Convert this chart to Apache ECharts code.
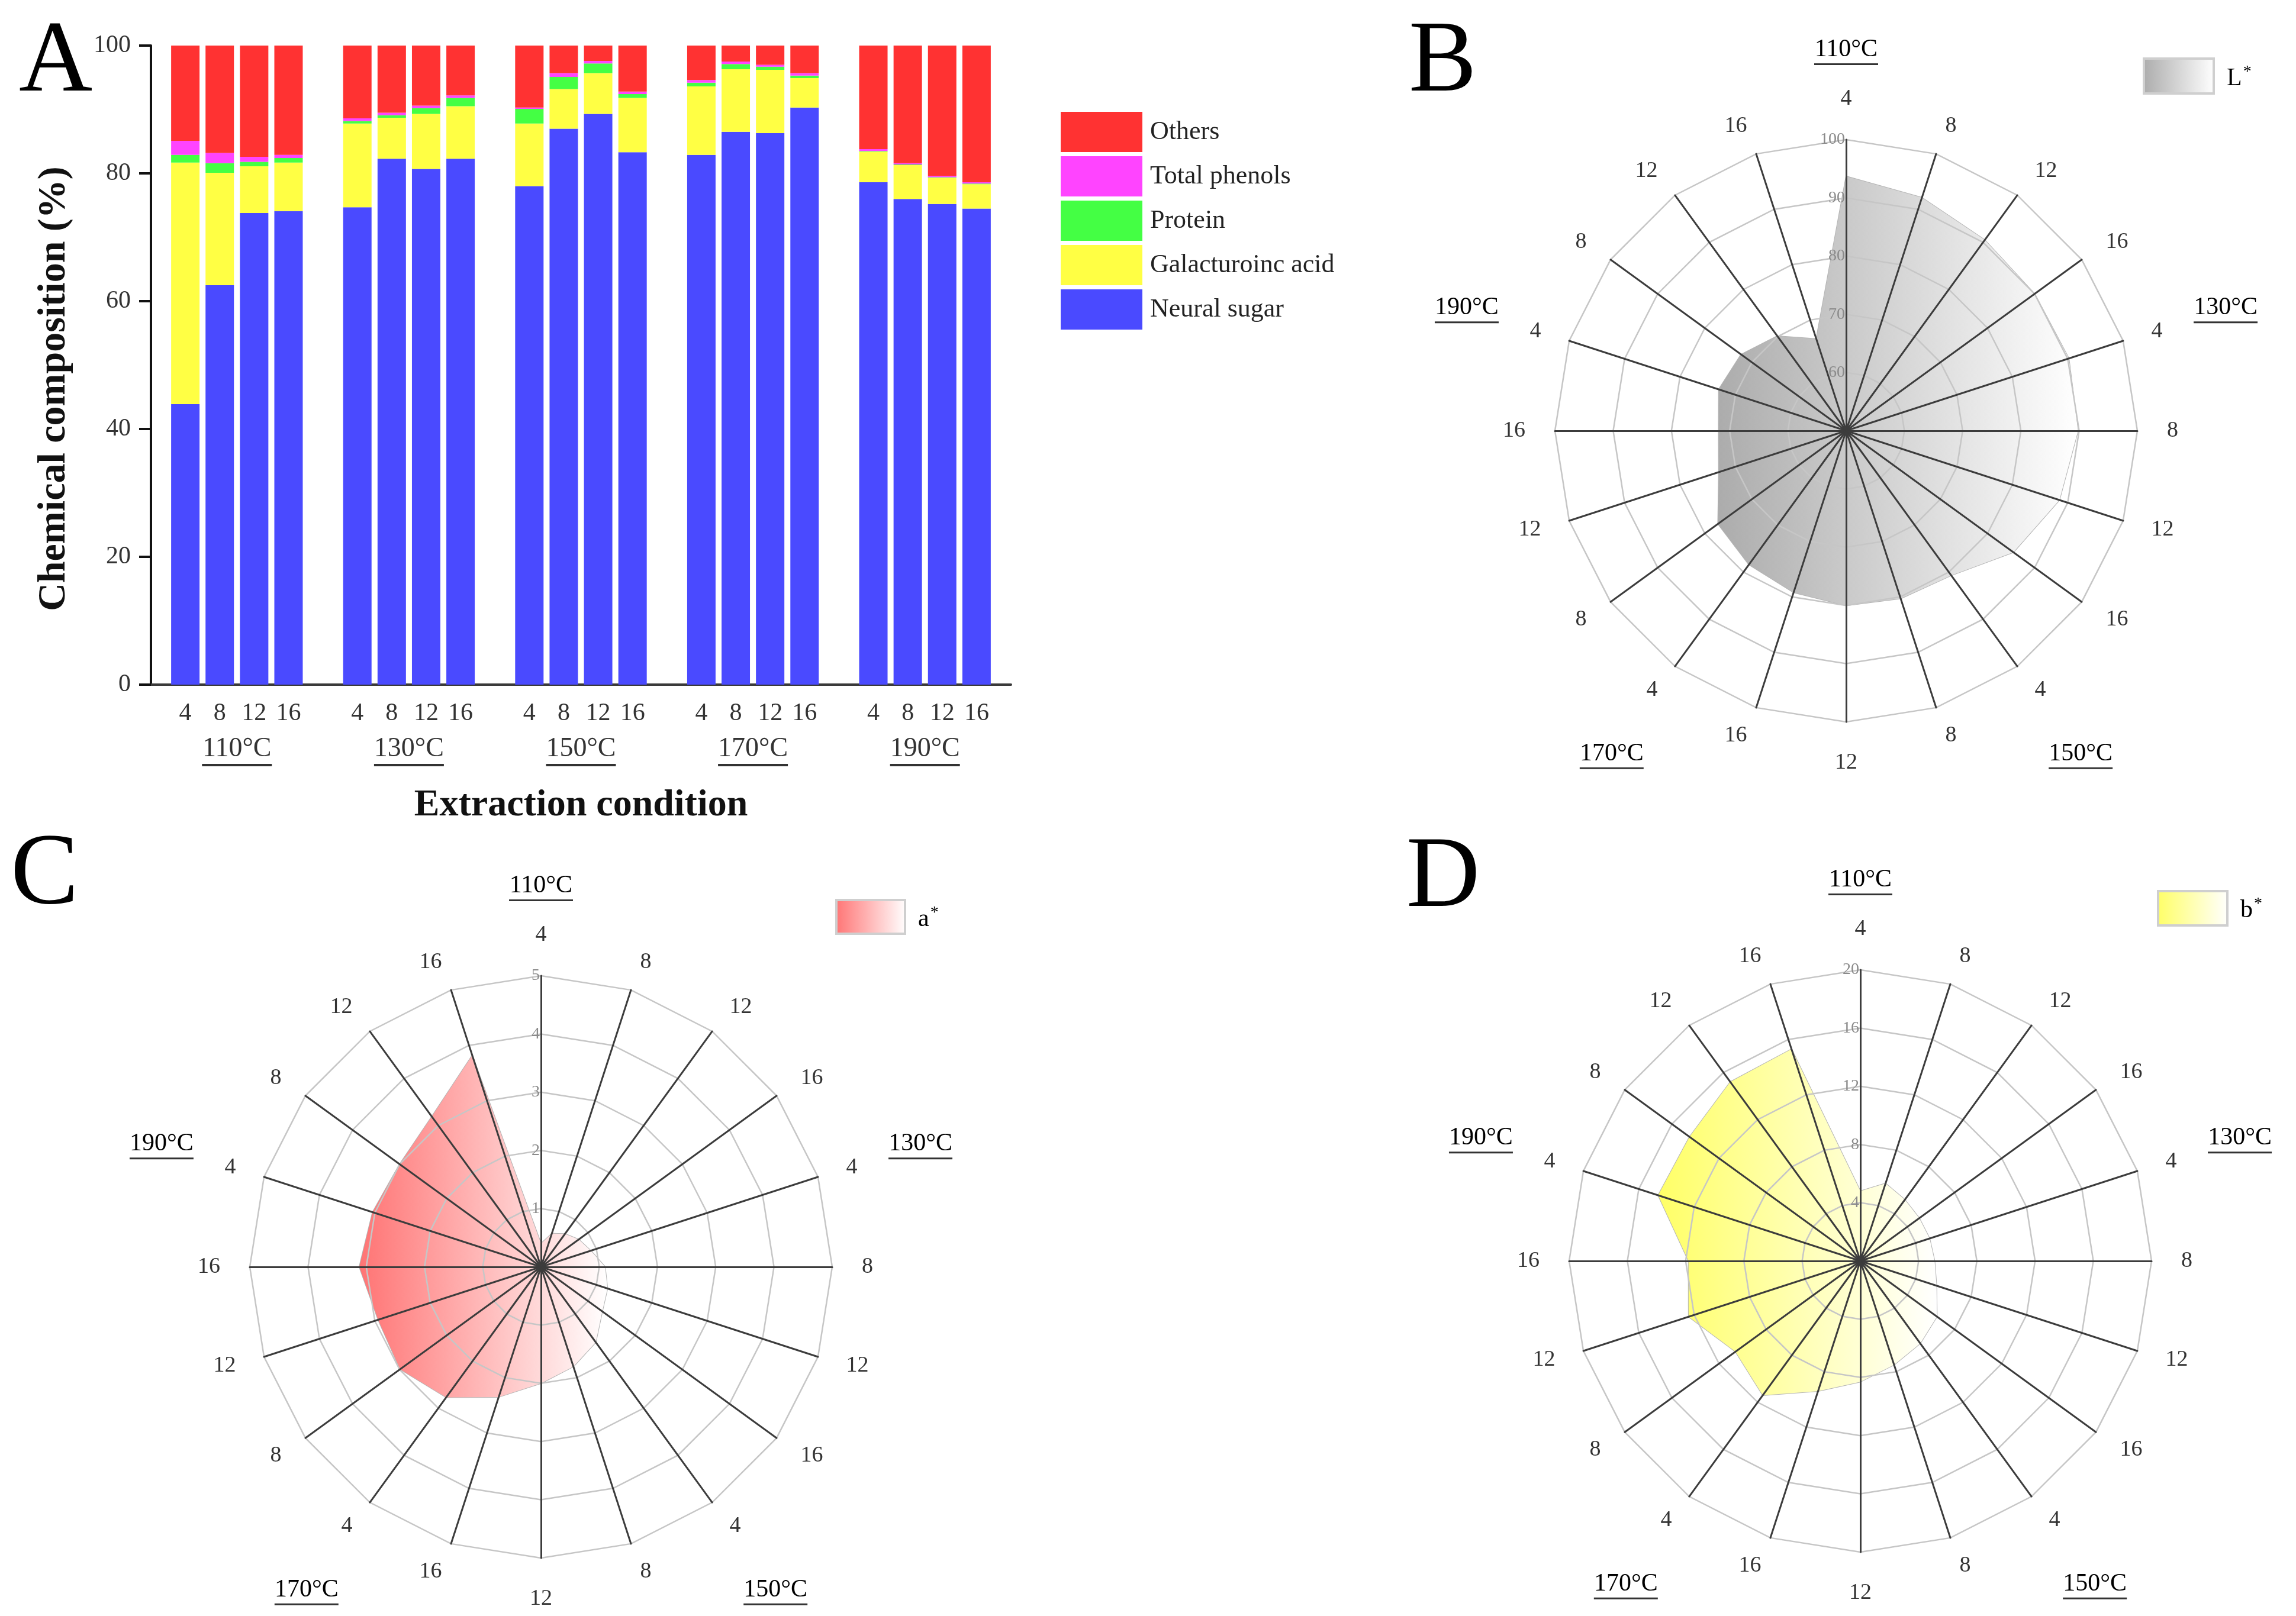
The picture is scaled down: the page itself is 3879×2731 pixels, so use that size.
<!DOCTYPE html>
<html><head><meta charset="utf-8">
<script src="https://cdn.jsdelivr.net/npm/echarts@6/dist/echarts.min.js"></script>
<style>html,body{margin:0;padding:0;background:#fff}#c{width:3879px;height:2731px}</style>
</head><body><div id="c"></div>
<script>
// ---------- data ----------
const times = ['4', '8', '12', '16'];
const temps = ['110°C', '130°C', '150°C', '170°C', '190°C'];
const seriesNames = ['Neural sugar', 'Galacturoinc acid', 'Protein', 'Total phenols', 'Others'];
// Panel A, order: 110(4,8,12,16), 130(...), 150, 170, 190
const neuralSugar = [43.9, 62.5, 73.8, 74.1, 74.7, 82.3, 80.7, 82.3, 78.0, 87.0, 89.3, 83.3, 82.9, 86.5, 86.3, 90.3, 78.6, 76.0, 75.2, 74.5];
const galacturonic = [37.8, 17.6, 7.3, 7.6, 13.1, 6.4, 8.6, 8.2, 9.8, 6.2, 6.4, 8.5, 10.7, 9.8, 9.9, 4.6, 4.8, 5.3, 4.1, 3.8];
const protein = [1.2, 1.5, 0.7, 0.7, 0.4, 0.4, 0.9, 1.3, 2.3, 1.9, 1.5, 0.6, 0.6, 0.8, 0.5, 0.4, 0.1, 0.1, 0.1, 0.1];
const totalPhenols = [2.2, 1.6, 0.8, 0.5, 0.4, 0.4, 0.4, 0.4, 0.2, 0.6, 0.4, 0.4, 0.4, 0.4, 0.3, 0.4, 0.3, 0.2, 0.2, 0.2];
const others = [14.9, 16.8, 17.4, 17.1, 11.4, 10.5, 9.4, 7.8, 9.7, 4.3, 2.4, 7.2, 5.4, 2.5, 3.0, 4.3, 16.2, 18.4, 20.4, 21.4];
const yTicks = [0, 20, 40, 60, 80, 100];
// Panels B-D (clockwise from 110°C-4)
const Lstar = [93.7, 92.1, 90.5, 90.0, 90.2, 89.8, 88.5, 85.5, 80.7, 80.3, 80.0, 79.2, 78.4, 77.2, 73.0, 71.9, 73.0, 72.3, 70.1, 66.6];
const aStar = [0.4, 0.6, 0.7, 0.8, 0.9, 1.1, 1.2, 1.3, 1.6, 1.8, 2.0, 2.35, 2.77, 2.99, 2.94, 3.12, 3.04, 3.0, 3.19, 3.82];
const bStar = [4.8, 5.6, 5.2, 5.0, 5.0, 5.1, 5.5, 6.5, 7.0, 7.5, 8.3, 9.4, 11.4, 10.6, 12.4, 11.8, 14.6, 14.5, 15.2, 15.3];
const Lrange = [50, 100], aRange = [0, 5], bRange = [0, 20];

// ---------- helpers ----------
const FONT = '"Liberation Serif", "Times New Roman", serif';
const colors = {'Neural sugar': '#4a4aff', 'Galacturoinc acid': '#ffff44', 'Protein': '#44ff44', 'Total phenols': '#ff44ff', 'Others': '#ff3232'};
const dataArr = {'Neural sugar': neuralSugar, 'Galacturoinc acid': galacturonic, 'Protein': protein, 'Total phenols': totalPhenols, 'Others': others};
function slots(arr) { const out = [null]; for (let g = 0; g < temps.length; g++) { for (let t = 0; t < times.length; t++) out.push(arr[g * times.length + t]); out.push(null); } return out; }
const xCats = ['']; temps.forEach(() => { times.forEach(t => xCats.push(t)); xCats.push(''); });
const labels20 = []; temps.forEach(T => times.forEach(t => labels20.push(t)));
function ccw(a) { return [a[0]].concat(a.slice(1).reverse()); } // ECharts radar is counter-clockwise

const R = 492;
const radars = [
  {center: [3119, 728], range: Lrange, values: Lstar, name: 'L', c0: '#acacac', legend: [3622, 99, 118, 59]},
  {center: [914, 2141], range: aRange, values: aStar, name: 'a', c0: '#ff7474', legend: [1413, 1521, 116, 57]},
  {center: [3143, 2131], range: bRange, values: bStar, name: 'b', c0: '#ffff66', legend: [3646, 1506, 117, 58]}
];

function radarCfg(r) {
  const names = ccw(labels20);
  return {
    center: r.center, radius: R, startAngle: 90, shape: 'polygon', splitNumber: 5, z: 3,
    indicator: names.map((n, i) => {
      const o = {name: n, min: r.range[0], max: r.range[1]};
      if (i === 0) o.axisLabel = {show: true, color: '#8a8a8a', fontSize: 28, fontFamily: FONT, showMinLabel: false, margin: 2};
      return o;
    }),
    axisName: {color: '#333', fontSize: 38, fontFamily: FONT},
    nameGap: 50,
    splitLine: {lineStyle: {color: '#c6c6c6', width: 2.5}},
    splitArea: {show: false},
    axisLine: {lineStyle: {color: '#3c3c3c', width: 3}},
    axisTick: {show: false},
    axisLabel: {show: false}
  };
}

const graphics = [];
function letter(t, x, y) { graphics.push({type: 'text', x: x, y: y, style: {text: t, fontSize: 172, fontFamily: FONT, fill: '#000', verticalAlign: 'middle'}}); }
letter('A', 32, 108); letter('B', 2380, 108); letter('C', 18, 1481); letter('D', 2376, 1486);
// y-axis title of panel A
graphics.push({type: 'text', x: 92, y: 657, rotation: Math.PI / 2,
  style: {text: 'Chemical composition (%)', fontSize: 66, fontWeight: 'bold', fontFamily: FONT, fill: '#111', align: 'center', verticalAlign: 'middle'}});

const uRich = {t: {fontSize: 42, fontFamily: FONT, color: '#333', lineHeight: 46}, u: {width: 108, height: 3, backgroundColor: '#333'}};
radars.forEach(r => {
  const [cx, cy] = r.center;
  temps.forEach((T, k) => {
    const a = k * 72 * Math.PI / 180;
    const rr = k === 0 ? 1.31 * R : 1.37 * R;
    graphics.push({type: 'text', x: cx + rr * Math.sin(a), y: cy - rr * Math.cos(a) + 2,
      style: {text: '{t|' + T + '}\n{u|}', rich: uRich, align: 'center', verticalAlign: 'middle'}});
  });
  const [lx, ly, lw, lh] = r.legend;
  graphics.push({type: 'rect', shape: {x: lx, y: ly, width: lw, height: lh},
    style: {fill: new echarts.graphic.LinearGradient(0, 0, 1, 0, [{offset: 0, color: r.c0}, {offset: 1, color: '#ffffff'}]), stroke: '#cfcfcf', lineWidth: 4}});
  graphics.push({type: 'text', x: lx + lw + 22, y: ly + lh / 2 + 4,
    style: {text: '{n|' + r.name + '}{s|*}', verticalAlign: 'middle', align: 'left',
      rich: {n: {fontSize: 42, fontFamily: FONT, color: '#333'}, s: {fontSize: 28, fontFamily: FONT, color: '#333', padding: [0, 0, 22, 2]}}}});
});

const barSeries = seriesNames.map(n => ({
  name: n, type: 'bar', stack: 'comp', xAxisIndex: 0, yAxisIndex: 0, barWidth: 48,
  itemStyle: {color: colors[n]}, data: slots(dataArr[n])
}));

const radarSeries = radars.map((r, i) => ({
  type: 'radar', radarIndex: i, z: 1, symbol: 'none', silent: true,
  lineStyle: {color: '#b4b4b4', width: 2},
  areaStyle: {opacity: 1, color: new echarts.graphic.LinearGradient(0, 0, 1, 0, [{offset: 0, color: r.c0}, {offset: 1, color: '#ffffff'}])},
  data: [{value: ccw(r.values), name: r.name + '*'}]
}));

const option = {
  backgroundColor: '#ffffff',
  animation: false,
  textStyle: {fontFamily: FONT},
  grid: {left: 255, top: 77, width: 1453, height: 1080},
  legend: {
    orient: 'vertical', left: 1787, top: 184, itemWidth: 138, itemHeight: 68, itemGap: 7, icon: 'rect',
    textStyle: {fontSize: 44, fontFamily: FONT, color: '#222', padding: [0, 0, 0, 8]},
    data: ['Others', 'Total phenols', 'Protein', 'Galacturoinc acid', 'Neural sugar'], selectedMode: false
  },
  xAxis: [
    {type: 'category', data: xCats, boundaryGap: false, position: 'bottom',
      axisLine: {lineStyle: {color: '#3a3a3a', width: 4}}, axisTick: {show: false},
      axisLabel: {interval: 0, fontSize: 42, color: '#333', fontFamily: FONT, margin: 28},
      name: 'Extraction condition', nameLocation: 'middle', nameGap: 172,
      nameTextStyle: {fontSize: 64, fontWeight: 'bold', fontFamily: FONT, color: '#111'}},
    {type: 'category', data: temps, boundaryGap: true, position: 'bottom',
      axisLine: {show: false}, axisTick: {show: false},
      axisLabel: {interval: 0, margin: 84, formatter: v => '{t|' + v + '}\n{u|}',
        rich: {t: {fontSize: 46, fontFamily: FONT, color: '#333', lineHeight: 50}, u: {width: 118, height: 4, backgroundColor: '#333'}}}}
  ],
  yAxis: {type: 'value', min: yTicks[0], max: yTicks[yTicks.length - 1], interval: 20,
    axisLine: {show: true, lineStyle: {color: '#111', width: 4}},
    axisTick: {show: true, length: 20, lineStyle: {color: '#111', width: 4}},
    splitLine: {show: false},
    axisLabel: {fontSize: 42, color: '#333', fontFamily: FONT, margin: 34}},
  radar: radars.map(radarCfg),
  series: barSeries.concat(radarSeries),
  graphic: graphics
};
const chart = echarts.init(document.getElementById('c'), null, {renderer: 'canvas'});
chart.setOption(option);
</script></body></html>
